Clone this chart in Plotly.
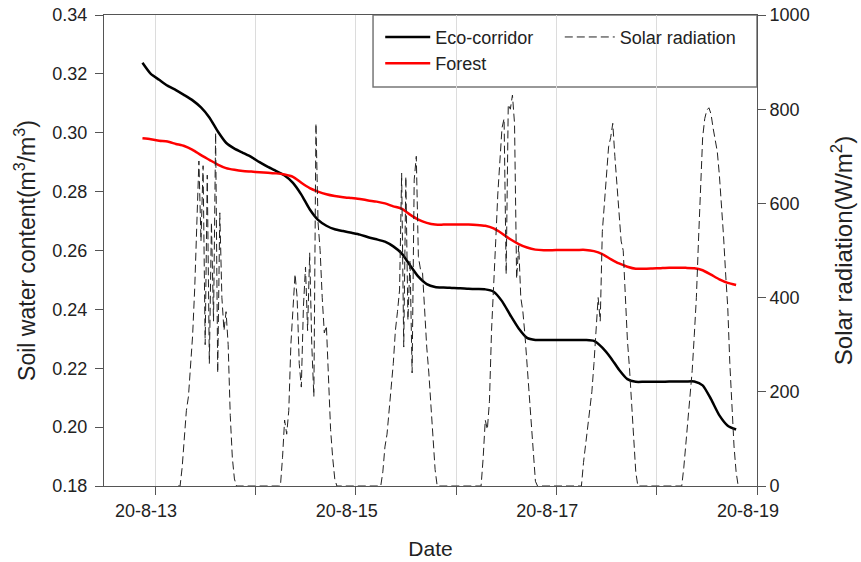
import pandas as pd
import plotly.graph_objects as go

# ---------------- data ----------------
# Soil water content (m3/m3), sampled every 2 h starting 2020-08-12 21:00
soil_start = "2020-08-12 21:00"
eco_corridor = [
    0.3238, 0.3200, 0.3180, 0.3160, 0.3145, 0.3128, 0.3110, 0.3086, 0.3052, 0.3005,
    0.2966, 0.2946, 0.2932, 0.2918, 0.2900, 0.2884, 0.2870, 0.2855, 0.2830, 0.2790,
    0.2740, 0.2704, 0.2684, 0.2672, 0.2666, 0.2660, 0.2654, 0.2645, 0.2638, 0.2630,
    0.2614, 0.2590, 0.2550, 0.2511, 0.2486, 0.2476, 0.2474, 0.2473, 0.2472, 0.2470,
    0.2469, 0.2468, 0.2460, 0.2428, 0.2380, 0.2335, 0.2303, 0.2296, 0.2296, 0.2296,
    0.2296, 0.2296, 0.2296, 0.2296, 0.2293, 0.2270, 0.2236, 0.2195, 0.2163, 0.2154,
    0.2154, 0.2154, 0.2154, 0.2155, 0.2155, 0.2155, 0.2155, 0.2142, 0.2095, 0.2040,
    0.2005, 0.1992,
]
forest = [
    0.2981, 0.2978, 0.2973, 0.2970, 0.2962, 0.2955, 0.2942, 0.2924, 0.2908, 0.2892,
    0.2880, 0.2874, 0.2870, 0.2868, 0.2866, 0.2864, 0.2862, 0.2858, 0.2850, 0.2830,
    0.2812, 0.2800, 0.2791, 0.2785, 0.2781, 0.2778, 0.2775, 0.2770, 0.2766, 0.2760,
    0.2750, 0.2742, 0.2722, 0.2705, 0.2694, 0.2688, 0.2688, 0.2688, 0.2688, 0.2688,
    0.2687, 0.2684, 0.2675, 0.2658, 0.2638, 0.2622, 0.2610, 0.2603, 0.2601, 0.2601,
    0.2602, 0.2602, 0.2602, 0.2602, 0.2598, 0.2588, 0.2571, 0.2556, 0.2545, 0.2538,
    0.2538, 0.2539, 0.2540, 0.2541, 0.2541, 0.2541, 0.2540, 0.2533, 0.2518, 0.2502,
    0.2490, 0.2483,
]

# Solar radiation (W/m2), every 30 min from 05:30 to 19:30 each day
solar_days = ["2020-08-13", "2020-08-14", "2020-08-15",
              "2020-08-16", "2020-08-17", "2020-08-18"]
solar_day_start = "05:30"
solar_aug13 = [0, 0, 40, 110, 160, 190, 250, 320, 420, 560, 690, 520, 680, 300, 660,
               260, 560, 350, 750, 240, 580, 400, 330, 370, 300, 150, 60, 15, 0]
solar_aug14 = [0, 0, 60, 140, 110, 160, 300, 380, 450, 400, 260, 210, 380, 465, 330,
               495, 300, 190, 770, 560, 500, 400, 325, 340, 230, 120, 60, 15, 0]
solar_aug15 = [0, 0, 30, 83, 110, 170, 210, 260, 330, 370, 416, 664, 295, 657, 352,
               480, 240, 650, 700, 487, 460, 452, 367, 295, 240, 170, 90, 35, 0]
solar_aug16 = [0, 0, 60, 140, 120, 180, 330, 440, 520, 620, 700, 760, 780, 450, 810,
               800, 830, 770, 440, 510, 400, 370, 320, 260, 200, 140, 60, 10, 0]
solar_aug17 = [0, 0, 50, 90, 130, 160, 200, 260, 330, 400, 350, 540, 600, 660, 720,
               740, 770, 700, 640, 560, 520, 500, 400, 310, 250, 180, 110, 30, 0]
solar_aug18 = [0, 0, 40, 90, 140, 190, 245, 320, 400, 520, 640, 740, 780, 798, 803,
               790, 760, 735, 710, 660, 600, 530, 450, 380, 260, 160, 85, 30, 0]
solar_by_day = [solar_aug13, solar_aug14, solar_aug15,
                solar_aug16, solar_aug17, solar_aug18]

x_tick_dates = ["2020-08-13", "2020-08-15", "2020-08-17", "2020-08-19"]
x_tick_labels = ["20-8-13", "20-8-15", "20-8-17", "20-8-19"]
x_minor_dates = ["2020-08-14", "2020-08-16", "2020-08-18"]
x_range = ["2020-08-12 11:48", "2020-08-19 00:00"]

# ---------------- build series ----------------
soil_time = pd.date_range(soil_start, periods=len(eco_corridor), freq="2h")
solar_time, solar_vals = [], []
for day, vals in zip(solar_days, solar_by_day):
    solar_time += list(pd.date_range(f"{day} {solar_day_start}", periods=len(vals), freq="30min"))
    solar_vals += vals

FONT = "Arial, 'Liberation Sans', sans-serif"
AX = "#555555"
GRID = "#dcdcdc"

fig = go.Figure()
fig.add_trace(go.Scatter(
    x=soil_time, y=eco_corridor, name="Eco-corridor", mode="lines",
    line=dict(color="black", width=2.5, shape="spline", smoothing=0.6),
    legend="legend"))
fig.add_trace(go.Scatter(
    x=soil_time, y=forest, name="Forest", mode="lines",
    line=dict(color="#ff0000", width=2.5, shape="spline", smoothing=0.6),
    legend="legend"))
fig.add_trace(go.Scatter(
    x=solar_time, y=solar_vals, name="Solar radiation", mode="lines", yaxis="y2",
    line=dict(color="#222222", width=1, dash="8px,4px"),
    legend="legend2"))

fig.update_layout(
    width=861, height=562,
    margin=dict(l=104, r=104, t=15, b=76, autoexpand=False),
    paper_bgcolor="white", plot_bgcolor="white",
    font=dict(family=FONT, size=18, color="#222222"),
    showlegend=True,
    xaxis=dict(
        type="date", range=x_range,
        tickmode="array", tickvals=x_tick_dates, ticktext=x_tick_labels,
        ticks="outside", ticklen=8, tickcolor=AX, tickwidth=1,
        ticklabelshift=-9, ticklabeloverflow="allow",
        showline=True, linecolor=AX, linewidth=1, mirror=True,
        showgrid=True, gridcolor=GRID, gridwidth=1, zeroline=False,
        minor=dict(tickmode="array", tickvals=x_minor_dates, ticks="outside",
                   ticklen=8, tickcolor=AX, tickwidth=1,
                   showgrid=True, gridcolor=GRID, gridwidth=1),
        title=dict(text="Date", font=dict(size=21), standoff=21),
    ),
    yaxis=dict(
        range=[0.18, 0.34], tick0=0.18, dtick=0.02, tickformat=".2f",
        ticks="outside", ticklen=8, tickcolor=AX, ticklabelstandoff=4,
        ticklabeloverflow="allow",
        showline=True, linecolor=AX, linewidth=1,
        showgrid=False, zeroline=False,
        title=dict(text="Soil water content(m<sup>3</sup>/m<sup>3</sup>)",
                   font=dict(size=23), standoff=10),
    ),
    yaxis2=dict(
        overlaying="y", side="right", range=[0, 1000], tick0=0, dtick=200,
        ticks="outside", ticklen=8, tickcolor=AX, ticklabeloverflow="allow",
        showline=True, linecolor=AX, linewidth=1,
        showgrid=False, zeroline=False,
        title=dict(text="Solar radiation(W/m<sup>2</sup>)",
                   font=dict(size=24), standoff=26),
    ),
    legend=dict(x=0.423, y=0.992, xanchor="left", yanchor="top",
                bgcolor="rgba(0,0,0,0)", borderwidth=0,
                font=dict(size=18), itemwidth=45, tracegroupgap=0),
    legend2=dict(x=0.698, y=0.992, xanchor="left", yanchor="top",
                 bgcolor="rgba(0,0,0,0)", borderwidth=0,
                 font=dict(size=18), itemwidth=50),
    shapes=[dict(type="rect", xref="paper", yref="paper",
                 x0=0.412, x1=1.0, y0=0.847, y1=1.0,
                 line=dict(color="#777777", width=1.5),
                 fillcolor="white", layer="between")],
)

# remove the default page margin so the figure fills the window exactly
fig.write_html(
    "out.html",
    config={"displayModeBar": False},
    post_script="document.body.style.margin='0';document.body.style.overflow='hidden';",
)
